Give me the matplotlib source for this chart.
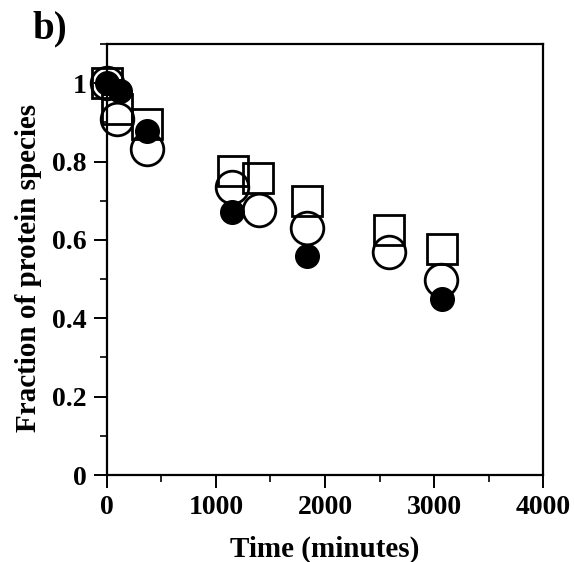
import matplotlib
matplotlib.use("Agg")
import matplotlib.pyplot as plt
from matplotlib.ticker import MultipleLocator

# Data (time in minutes, fraction)
t_square = [0, 90, 370, 1155, 1385, 1835, 2585, 3070]
y_square = [1.0, 0.935, 0.895, 0.775, 0.757, 0.700, 0.625, 0.577]

t_open = [0, 90, 367, 1150, 1395, 1835, 2587, 3065]
y_open = [1.0, 0.908, 0.832, 0.734, 0.677, 0.631, 0.569, 0.497]

t_filled = [0, 120, 367, 1150, 1835, 3073]
y_filled = [1.0, 0.979, 0.879, 0.672, 0.559, 0.449]

xticks = [0, 1000, 2000, 3000, 4000]
yticks = [0, 0.2, 0.4, 0.6, 0.8, 1.0]
ytick_labels = ["0", "0.2", "0.4", "0.6", "0.8", "1"]

plt.rcParams['font.family'] = ['Liberation Serif', 'DejaVu Serif']
plt.rcParams['font.weight'] = 'bold'

fig = plt.figure(figsize=(5.74, 5.62), dpi=100)
ax = fig.add_axes([0.1864, 0.1548, 0.7596, 0.7669])

ax.plot(t_square, y_square, linestyle='none', marker='s', markersize=22.3,
        fillstyle='none', markeredgecolor='black', markeredgewidth=2.0,
        zorder=3, clip_on=False)
ax.plot(t_open, y_open, linestyle='none', marker='o', markersize=23.5,
        fillstyle='none', markeredgecolor='black', markeredgewidth=2.0,
        zorder=4, clip_on=False)
ax.plot(t_filled, y_filled, linestyle='none', marker='o', markersize=17,
        color='black', markeredgecolor='black', zorder=5, clip_on=False)

ax.set_xlim(0, 4000)
ax.set_ylim(0, 1.1)
ax.set_xticks(xticks)
ax.set_xticklabels([str(v) for v in xticks])
ax.set_yticks(yticks)
ax.set_yticklabels(ytick_labels)
ax.xaxis.set_minor_locator(MultipleLocator(500))
ax.yaxis.set_minor_locator(MultipleLocator(0.1))

for s in ax.spines.values():
    s.set_linewidth(1.6)

ax.tick_params(axis='both', which='major', direction='out', length=9.5, width=1.4,
               labelsize=20, pad=5)
ax.tick_params(axis='both', which='minor', direction='out', length=5, width=1.2)
ax.tick_params(top=False, right=False, which='both')
for lbl in ax.get_xticklabels() + ax.get_yticklabels():
    lbl.set_fontweight('bold')

ax.set_xlabel("Time (minutes)", fontsize=21, fontweight='bold', labelpad=11)
ax.set_ylabel("Fraction of protein species", fontsize=21, fontweight='bold')
ax.yaxis.set_label_coords(-0.15, 0.48)

fig.text(0.056, 0.948, "b)", fontsize=28, fontweight='bold', ha='left', va='center')

fig.savefig("out.png", dpi=100)
